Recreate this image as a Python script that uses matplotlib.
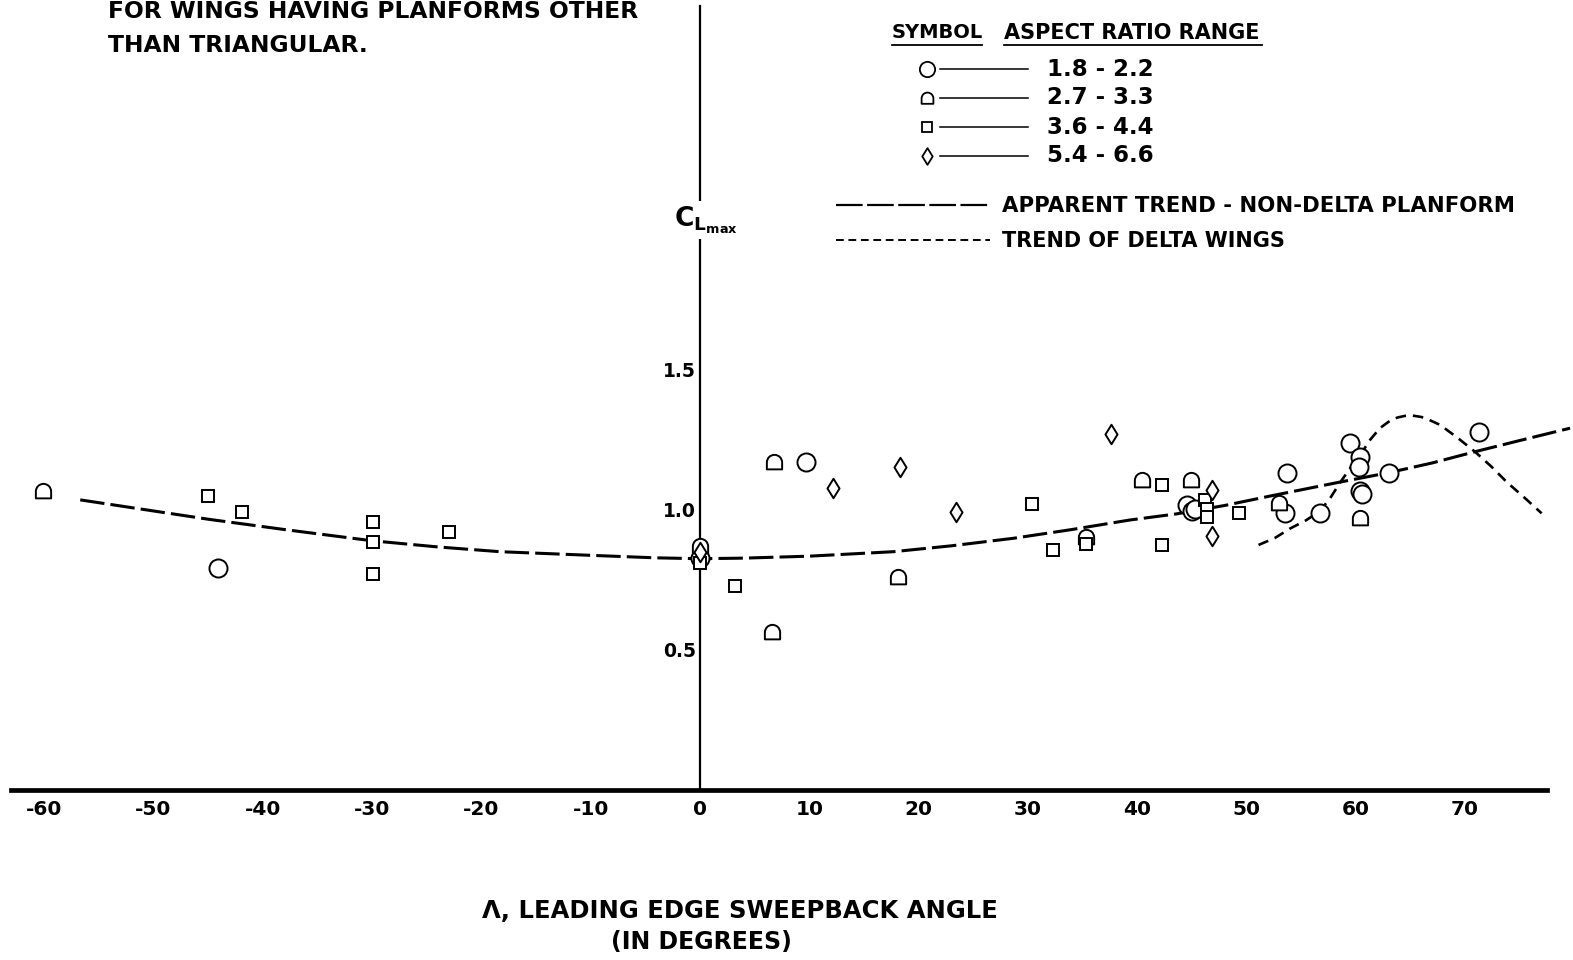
import matplotlib
matplotlib.use("Agg")
import matplotlib.pyplot as plt
from matplotlib.path import Path

# ---- data: maximum lift coefficient vs leading-edge sweepback ----
# aspect ratio 1.8 - 2.2 (circles)
circle_x = [-44.1, 0.0, 9.7, 44.6, 45.0, 45.3, 53.7, 53.5, 56.7, 59.5, 60.4, 60.3,
            63.0, 60.4, 60.6, 71.3]
circle_y = [0.792, 0.83, 1.172, 1.018, 0.998, 1.005, 1.133, 0.988, 0.988, 1.238,
            1.188, 1.155, 1.133, 1.066, 1.058, 1.280]
# aspect ratio 2.7 - 3.3 (arches)
arch_x = [-60.1, 0.0, 6.8, 6.6, 18.1, 35.3, 40.4, 44.9, 53.0, 60.4]
arch_y = [1.069, 0.87, 1.172, 0.565, 0.759, 0.902, 1.107, 1.107, 1.024, 0.970]
# aspect ratio 3.6 - 4.4 (squares)
square_x = [-45.0, -41.9, -29.9, -29.9, -29.9, -23.0, 0.0, 3.2, 30.4, 32.3, 35.3,
            42.3, 42.3, 46.2, 46.4, 46.4, 49.3]
square_y = [1.050, 0.993, 0.958, 0.887, 0.771, 0.920, 0.81, 0.729, 1.021, 0.857,
            0.880, 1.089, 0.875, 1.036, 1.002, 0.974, 0.990]
# aspect ratio 5.4 - 6.6 (diamonds)
diamond_x = [0.0, 12.2, 18.3, 23.4, 37.6, 46.8, 46.8]
diamond_y = [0.85, 1.080, 1.155, 0.993, 1.271, 1.071, 0.907]

# apparent trend, non-delta planforms
trend_x = [-56.7, -45.0, -38.0, -30.0, -24.0, -18.3, -10.0, -4.0, 0.0, 4.0, 10.0,
           17.7, 23.0, 28.7, 34.0, 39.3, 43.6, 48.0, 52.2, 58.6, 63.0, 67.0,
           70.9, 75.0, 79.6]
trend_y = [1.036, 0.967, 0.930, 0.890, 0.868, 0.851, 0.838, 0.829, 0.826, 0.828,
           0.835, 0.851, 0.872, 0.899, 0.930, 0.964, 0.986, 1.016, 1.050, 1.100,
           1.133, 1.168, 1.208, 1.248, 1.292]
# trend of delta wings
delta_x = [51.1, 52.6, 54.0, 55.4, 56.7, 57.7, 58.6, 59.5, 60.4, 61.3, 62.2, 63.0,
           63.8, 64.5, 65.2, 66.0, 66.8, 67.7, 69.3, 70.9, 72.4, 73.8, 75.4, 77.0]
delta_y = [0.875, 0.900, 0.934, 0.962, 0.995, 1.045, 1.100, 1.150, 1.196, 1.250,
           1.292, 1.315, 1.330, 1.336, 1.337, 1.332, 1.320, 1.304, 1.258, 1.208,
           1.155, 1.100, 1.045, 0.988]

x_ticks = [-60, -50, -40, -30, -20, -10, 0, 10, 20, 30, 40, 50, 60, 70]
x_tick_labels = ["-60", "-50", "-40", "-30", "-20", "-10", "0", "10", "20", "30",
                 "40", "50", "60", "70"]
y_ticks = [0.5, 1.0, 1.5]
y_tick_labels = ["0.5", "1.0", "1.5"]
ar_ranges = ["1.8 - 2.2", "2.7 - 3.3", "3.6 - 4.4", "5.4 - 6.6"]

plt.rcParams["font.family"] = ["DejaVu Sans"]
plt.rcParams["font.weight"] = "bold"
plt.rcParams["mathtext.fontset"] = "custom"
plt.rcParams["mathtext.rm"] = "DejaVu Sans:bold"
plt.rcParams["mathtext.it"] = "DejaVu Sans:bold"
plt.rcParams["mathtext.default"] = "rm"

W, H = 1573, 960
fig = plt.figure(figsize=(W / 100, H / 100), dpi=100)
ax = fig.add_axes([0, 0, 1, 1])
ax.set_xlim(-64.04, 79.87)
ax.set_ylim(-0.607, 2.821)

# axes drawn through the origin
for side in ("top", "right"):
    ax.spines[side].set_visible(False)
ax.spines["left"].set_position(("data", 0))
ax.spines["bottom"].set_position(("data", 0))
ax.spines["left"].set_bounds(0, 2.80)
ax.spines["bottom"].set_bounds(-63.0, 77.5)
ax.spines["left"].set_linewidth(1.6)
ax.spines["bottom"].set_linewidth(3.4)
ax.set_xticks(x_ticks)
ax.set_xticklabels(x_tick_labels)
ax.set_yticks(y_ticks)
ax.set_yticklabels(y_tick_labels)
ax.tick_params(axis="x", length=0, pad=7, labelsize=14.5)
ax.tick_params(axis="y", length=0, pad=3, labelsize=13.5)
for lab in ax.get_xticklabels() + ax.get_yticklabels():
    lab.set_fontweight("bold")

# arch-shaped marker: round top, flat bottom
arc = Path.arc(0, 180)
arch_verts = list(arc.vertices) + [(-1.0, -0.9), (1.0, -0.9), (1.0, 0.0)]
arch_codes = list(arc.codes) + [Path.LINETO, Path.LINETO, Path.CLOSEPOLY]
arch_marker = Path(arch_verts, arch_codes)

# slender diamond marker
diamond_marker = Path([(0, 1), (0.62, 0), (0, -1), (-0.62, 0), (0, 1)],
                      [Path.MOVETO, Path.LINETO, Path.LINETO, Path.LINETO,
                       Path.CLOSEPOLY])

mk = dict(linestyle="none", markerfacecolor="white", markeredgecolor="black",
          markeredgewidth=1.4, zorder=4)
ax.plot(circle_x, circle_y, marker="o", markersize=13, **mk)
ax.plot(arch_x, arch_y, marker=arch_marker, markersize=11, **mk)
ax.plot(square_x, square_y, marker="s", markersize=9, **mk)
ax.plot(diamond_x, diamond_y, marker=diamond_marker, markersize=14, **mk)

ax.plot(trend_x, trend_y, color="black", linewidth=2.2, dashes=(8, 2), zorder=3,
        solid_capstyle="butt", dash_capstyle="butt")
ax.plot(delta_x, delta_y, color="black", linewidth=1.9, dashes=(4, 2.6), zorder=3,
        dash_capstyle="butt")

T = ax.transAxes


def P(xp, yp):
    return xp / W, 1 - yp / H


# note at upper left
ax.text(*P(108, 11), "FOR WINGS HAVING PLANFORMS OTHER", transform=T,
        fontsize=16.8, fontweight="bold", va="center", ha="left")
ax.text(*P(108, 46), "THAN TRIANGULAR.", transform=T,
        fontsize=16.8, fontweight="bold", va="center", ha="left")

# y-axis title with a break in the axis line
ax.text(*P(706, 220), r"$C_{L_{max}}$", transform=T, fontsize=19,
        ha="center", va="center", zorder=6,
        bbox=dict(facecolor="white", edgecolor="none", pad=2))

# legend block
ax.text(*P(892, 33), "SYMBOL", transform=T, fontsize=14, fontweight="bold",
        va="center", ha="left")
ax.text(*P(1004, 33), "ASPECT RATIO RANGE", transform=T, fontsize=15,
        fontweight="bold", va="center", ha="left")
for x0, x1 in ((892, 982), (1004, 1262)):
    ax.plot([P(x0, 45)[0], P(x1, 45)[0]], [P(x0, 45)[1]] * 2, transform=T,
            color="black", linewidth=1.3, clip_on=False)

row_y = [69, 98, 127, 156]
row_markers = [("o", 11), (arch_marker, 8.5), ("s", 7.5), (diamond_marker, 12)]
for yp, (m, ms), txt in zip(row_y, row_markers, ar_ranges):
    ax.plot(*P(927, yp), marker=m, markersize=ms, transform=T, linestyle="none",
            markerfacecolor="white", markeredgecolor="black",
            markeredgewidth=1.3, clip_on=False)
    ax.plot([P(940, yp)[0], P(1028, yp)[0]], [P(940, yp)[1]] * 2, transform=T,
            color="black", linewidth=1.1, clip_on=False)
    ax.text(*P(1047, yp), txt, transform=T, fontsize=16.5, fontweight="bold",
            va="center", ha="left")

ax.plot([P(836, 205)[0], P(990, 205)[0]], [P(836, 205)[1]] * 2, transform=T,
        color="black", linewidth=1.6, dashes=(12, 2), clip_on=False)
ax.text(*P(1002, 206), "APPARENT TREND - NON-DELTA PLANFORM", transform=T,
        fontsize=15.3, fontweight="bold", va="center", ha="left")
ax.plot([P(836, 240)[0], P(990, 240)[0]], [P(836, 240)[1]] * 2, transform=T,
        color="black", linewidth=1.4, dashes=(4, 2.4), clip_on=False)
ax.text(*P(1002, 241), "TREND OF DELTA WINGS", transform=T,
        fontsize=15, fontweight="bold", va="center", ha="left")

# x-axis title
ax.text(*P(740, 911), "\u039b, LEADING EDGE SWEEPBACK ANGLE", transform=T,
        fontsize=17.5, fontweight="bold", va="center", ha="center")
ax.text(*P(701, 942), "(IN DEGREES)", transform=T,
        fontsize=17, fontweight="bold", va="center", ha="center")

fig.savefig("out.png", dpi=100, facecolor="white")
